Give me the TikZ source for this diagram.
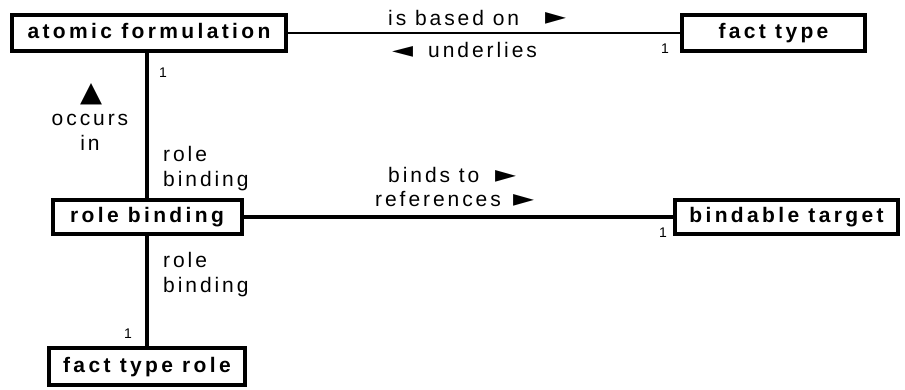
\documentclass[tikz,border=0pt]{standalone}
\usepackage{graphicx}
\usepackage{fontspec}
\setmainfont{Liberation Sans}
\newfontfamily\labfont[LetterSpace=14]{Liberation Sans}
\newfontfamily\boxfont[LetterSpace=16]{Liberation Sans}
\newfontfamily\symfont{DejaVu Sans}
\newcommand\rtri{\resizebox{21pt}{12pt}{\symfont ►}}
\newcommand\ltri{\resizebox{21pt}{11pt}{\symfont ◄}}
\begin{document}
\begin{tikzpicture}[x=1pt,y=-1pt,
  entity/.style={draw, line width=4pt, inner sep=0pt, fill=white,
    font=\boxfont\bfseries\fontsize{21}{21}\selectfont, text height=15pt, text depth=3pt},
  lab/.style={inner sep=0pt, font=\labfont\fontsize{21}{25}\selectfont},
  mult/.style={inner sep=0pt, font=\fontsize{14}{14}\selectfont}
]
\useasboundingbox (0,0) rectangle (905,390);
\node[entity, minimum width=274pt, minimum height=36pt] (af) at (149,33) {atomic formulation};
\node[entity, minimum width=183pt, minimum height=36pt] (ft) at (773.5,33) {fact type};
\node[entity, minimum width=189pt, minimum height=34pt] (rb) at (147,217) {role binding};
\node[entity, minimum width=223pt, minimum height=34pt] (bt) at (786.5,217) {bindable target};
\node[entity, minimum width=196pt, minimum height=37pt] (ftr) at (147,366.5) {fact type role};

\draw[line width=2pt] (af.east) -- (ft.west);
\draw[line width=3.5pt] (rb.north) -- (rb.north |- af.south);
\draw[line width=4pt] (rb.east) -- (bt.west);
\draw[line width=4pt] (rb.south) -- (ftr.north);

\node[lab, anchor=base west] (l1) at (388,26) {\makebox[157pt][l]{is based on}\raisebox{1pt}{\rtri}};
\node[lab, anchor=base west] (l2) at (392,58) {\makebox[36pt][l]{\ltri}underlies};
\node[lab, anchor=base west] (l3) at (388,183) {\makebox[107pt][l]{binds to}\rtri};
\node[lab, anchor=base west] (l4) at (375,207) {\makebox[138pt][l]{references}\rtri};
\node[lab, anchor=base, align=center] (l5) at (90,151) {occurs\\in};
\node[inner sep=0pt, anchor=south] (l5t) at (91,105) {\resizebox{22pt}{18pt}{\symfont ▲}};
\node[lab, anchor=base west, align=left] (l6) at (163,187) {role\\binding};
\node[lab, anchor=base west, align=left] (l7) at (163,292) {role\\binding};

\node[mult, anchor=base] (m1) at (665,54) {1};
\node[mult, anchor=base] (m2) at (163,78) {1};
\node[mult, anchor=base] (m3) at (128,338) {1};
\node[mult, anchor=base] (m4) at (663,237) {1};
\end{tikzpicture}
\end{document}
